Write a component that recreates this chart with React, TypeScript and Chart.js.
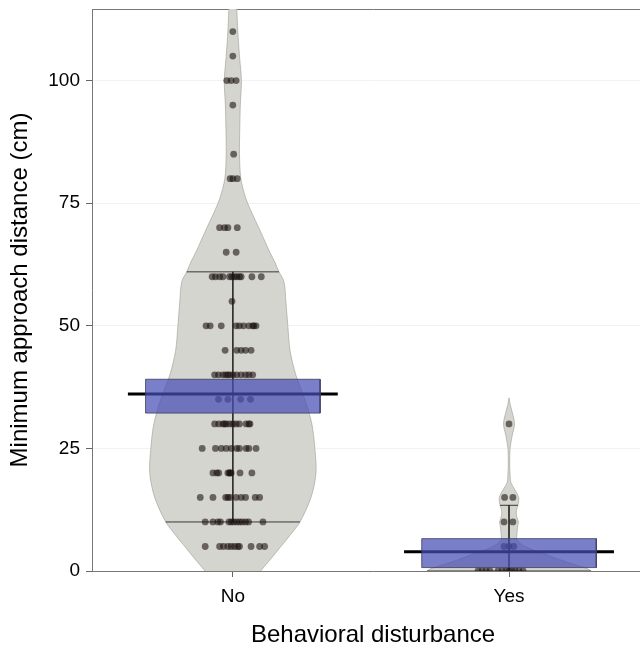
import React, { useEffect, useRef } from 'react';
import { Chart, registerables } from 'chart.js';

Chart.register(...registerables);

// ---------- data ----------
const categories = ['No', 'Yes'];
const yTicks = [0, 25, 50, 75, 100];
const yMax = 114.6;

// observations (value levels) and horizontal jitter (in category units)
const noLevels = [5, 10, 15, 20, 25, 30, 35, 40, 45, 50, 55, 60, 65, 70, 80, 85, 95, 100, 105, 110];
const noJitter = [
  [-0.100, -0.048, -0.034, -0.018, -0.006, 0.006, 0.018, 0.024, 0.066, 0.097, 0.115],
  [-0.100, -0.072, -0.054, -0.045, -0.014, -0.006, 0.003, 0.014, 0.024, 0.034, 0.046, 0.057, 0.109],
  [-0.118, -0.072, -0.026, -0.018, -0.010, 0.012, 0.030, 0.046, 0.081, 0.097],
  [-0.072, -0.058, -0.051, -0.018, -0.012, -0.010, -0.006, 0.026, 0.069],
  [-0.111, -0.063, -0.042, -0.024, -0.006, 0.014, 0.024, 0.048, 0.058, 0.084],
  [-0.066, -0.051, -0.036, -0.030, -0.024, -0.012, 0, 0.012, 0.024, 0.048, 0.058, 0.062],
  [-0.052, -0.018, 0.028, 0.064],
  [-0.066, -0.052, -0.036, -0.026, -0.018, -0.012, 0, 0.014, 0.030, 0.046, 0.058, 0.072],
  [-0.028, 0.014, 0.030, 0.046, 0.066],
  [-0.097, -0.082, -0.042, 0.012, 0.024, 0.039, 0.058, 0.072, 0.076, 0.084],
  [-0.003],
  [-0.075, -0.063, -0.048, -0.036, -0.012, -0.004, 0.006, 0.014, 0.024, 0.030, 0.069, 0.103],
  [-0.024, 0.012],
  [-0.048, -0.030, -0.018, 0.016],
  [-0.010, 0, 0.016],
  [0.003],
  [0],
  [-0.022, -0.006, 0.012],
  [0],
  [0],
];
const yesLevels = [0, 5, 10, 15, 30];
const yesJitter = [
  [-0.112, -0.098, -0.083, -0.069, -0.040, -0.025, -0.011, 0, 0.011, 0.022, 0.036, 0.051],
  [-0.018, 0, 0.017],
  [-0.018, 0.014],
  [-0.016, 0.014],
  [0],
];

// summary statistics
const means = [36.1, 3.9];
const ciLow = [32.2, 0.7];
const ciHigh = [39.1, 6.6];
const whiskerLow = [10, 0];
const whiskerHigh = [61, 13.4];

// violin density profiles: value levels and half-widths (category units)
const noViolinY = [-3, 0, 2.5, 5, 7.5, 10, 15, 20, 25, 30, 35, 40, 45, 50, 55, 59, 61, 63, 65, 70, 73, 76, 80, 85, 90, 95, 100, 105, 110, 114.3, 118];
const noViolinW = [0.065, 0.101, 0.138, 0.174, 0.210, 0.243, 0.283, 0.301, 0.297, 0.286, 0.261, 0.228, 0.207, 0.199, 0.192, 0.185, 0.167, 0.152, 0.134, 0.094, 0.069, 0.047, 0.029, 0.024, 0.025, 0.027, 0.031, 0.024, 0.018, 0.0145, 0.01];
const yesViolinY = [-3, 0, 1, 2, 3.5, 5, 6.3, 7.7, 9, 10, 11.3, 12.4, 13.5, 15, 16.5, 18, 19.5, 22, 25, 27.5, 30, 32.5, 34, 35.3];
const yesViolinW = [0.326, 0.297, 0.254, 0.199, 0.127, 0.058, 0.029, 0.029, 0.031, 0.034, 0.027, 0.027, 0.033, 0.035, 0.022, 0.007, 0.004, 0.0025, 0.004, 0.011, 0.020, 0.011, 0.004, 0];

// ---------- styles ----------
const FONT = "'Liberation Sans', Arial, sans-serif";
const BOX_HALF = 0.316;
const MEAN_HALF = 0.38;
const X_MIN = -0.51;
const X_MAX = 1.525;

function violinOutline(center: number, ys: number[], ws: number[]) {
  const pts: { x: number; y: number }[] = [];
  for (let i = 0; i < ys.length; i++) pts.push({ x: center - ws[i], y: ys[i] });
  for (let i = ys.length - 1; i >= 0; i--) pts.push({ x: center + ws[i], y: ys[i] });
  return pts;
}

function interp(ys: number[], ws: number[], v: number) {
  for (let i = 0; i < ys.length - 1; i++) {
    if (v >= ys[i] && v <= ys[i + 1]) {
      const t = (v - ys[i]) / (ys[i + 1] - ys[i]);
      return ws[i] + t * (ws[i + 1] - ws[i]);
    }
  }
  return 0;
}

function points(center: number, levels: number[], jitter: number[][]) {
  const pts: { x: number; y: number }[] = [];
  levels.forEach((lv, i) => jitter[i].forEach((j) => pts.push({ x: center + j, y: lv })));
  return pts;
}

function whiskers(center: number, lo: number, hi: number, ys: number[], ws: number[]) {
  const wl = interp(ys, ws, lo);
  const wh = interp(ys, ws, hi);
  return [
    { x: center - wh, y: hi },
    { x: center + wh, y: hi },
    { x: center, y: null },
    { x: center, y: hi },
    { x: center, y: lo },
    { x: center, y: null },
    { x: center - wl, y: lo },
    { x: center + wl, y: lo },
  ];
}

function box(center: number, lo: number, hi: number) {
  return [
    { x: center - BOX_HALF, y: lo },
    { x: center - BOX_HALF, y: hi },
    { x: center + BOX_HALF, y: hi },
    { x: center + BOX_HALF, y: lo },
    { x: center - BOX_HALF, y: lo },
  ];
}

const zeroPad = (s: any) => {
  s.paddingTop = 0;
  s.paddingBottom = 0;
  s.paddingLeft = 0;
  s.paddingRight = 0;
};

export default function App() {
  const ref = useRef<HTMLCanvasElement>(null);

  useEffect(() => {
    if (!ref.current) return;
    const profiles = [
      [noViolinY, noViolinW],
      [yesViolinY, yesViolinW],
    ];
    const datasets: any[] = [];
    categories.forEach((_, g) => {
      const [ys, ws] = profiles[g];
      datasets.push({
        data: violinOutline(g, ys, ws),
        showLine: true,
        fill: 'shape',
        backgroundColor: 'rgb(212,213,206)',
        borderColor: 'rgba(160,160,152,0.8)',
        borderWidth: 0.8,
        tension: 0.3,
        pointRadius: 0,
        order: 5,
      });
      datasets.push({
        data: whiskers(g, whiskerLow[g], whiskerHigh[g], ys, ws),
        showLine: true,
        spanGaps: false,
        borderColor: 'rgba(40,40,40,0.9)',
        borderWidth: 1,
        pointRadius: 0,
        order: 4,
      });
      datasets.push({
        data: g === 0 ? points(0, noLevels, noJitter) : points(1, yesLevels, yesJitter),
        showLine: false,
        pointRadius: 3.4,
        pointBackgroundColor: 'rgba(25,15,15,0.58)',
        pointBorderWidth: 0,
        order: 3,
      });
      datasets.push({
        data: [
          { x: g - MEAN_HALF, y: means[g] },
          { x: g + MEAN_HALF, y: means[g] },
        ],
        showLine: true,
        borderColor: '#000',
        borderWidth: 3,
        pointRadius: 0,
        order: 2,
      });
      datasets.push({
        data: box(g, ciLow[g], ciHigh[g]),
        showLine: true,
        fill: 'shape',
        backgroundColor: 'rgba(70,78,180,0.72)',
        borderColor: 'rgba(60,60,95,0.8)',
        borderWidth: 1,
        tension: 0,
        pointRadius: 0,
        order: 1,
      });
    });

    const chart = new Chart(ref.current, {
      type: 'scatter',
      data: { datasets },
      options: {
        animation: false,
        responsive: false,
        events: [],
        layout: { autoPadding: false, padding: { top: 9, left: 0, right: 0, bottom: 0 } },
        plugins: { legend: { display: false }, tooltip: { enabled: false } },
        scales: {
          x: {
            type: 'linear',
            position: 'bottom',
            min: X_MIN,
            max: X_MAX,
            afterBuildTicks: (s: any) => {
              s.ticks = categories.map((_, i) => ({ value: i }));
            },
            afterFit: (s: any) => {
              s.height = 76;
              zeroPad(s);
            },
            ticks: {
              callback: (v: any) => categories[v] ?? '',
              font: { family: FONT, size: 19 },
              color: '#000',
              padding: 8,
              maxRotation: 0,
              autoSkip: false,
            },
            grid: { drawOnChartArea: false, tickLength: 6, tickColor: '#666' },
            border: { color: '#777', width: 1 },
            title: {
              display: true,
              text: 'Behavioral disturbance',
              font: { family: FONT, size: 24 },
              color: '#000',
              padding: { top: 0, bottom: -3 },
            },
          },
          x2: {
            type: 'linear',
            position: 'top',
            min: X_MIN,
            max: X_MAX,
            afterFit: (s: any) => {
              s.height = 0;
              zeroPad(s);
            },
            ticks: { display: false },
            grid: { drawOnChartArea: false, drawTicks: false },
            border: { color: '#777', width: 1 },
          },
          y: {
            type: 'linear',
            min: 0,
            max: yMax,
            afterBuildTicks: (s: any) => {
              s.ticks = yTicks.map((v) => ({ value: v }));
            },
            afterFit: (s: any) => {
              s.width = 92;
              zeroPad(s);
            },
            ticks: { font: { family: FONT, size: 19 }, color: '#000', padding: 6 },
            grid: { color: '#f2f2f2', tickColor: '#666', tickLength: 6 },
            border: { color: '#777', width: 1 },
            title: {
              display: true,
              text: 'Minimum approach distance (cm)',
              font: { family: FONT, size: 24 },
              color: '#000',
              padding: { top: 6, bottom: 0 },
            },
          },
        },
      } as any,
    });
    return () => chart.destroy();
  }, []);

  return (
    <div style={{ position: 'absolute', left: 0, top: 0, width: 640, height: 647, overflow: 'hidden', background: '#fff' }}>
      <canvas ref={ref} width={654} height={647} style={{ display: 'block' }} />
    </div>
  );
}
